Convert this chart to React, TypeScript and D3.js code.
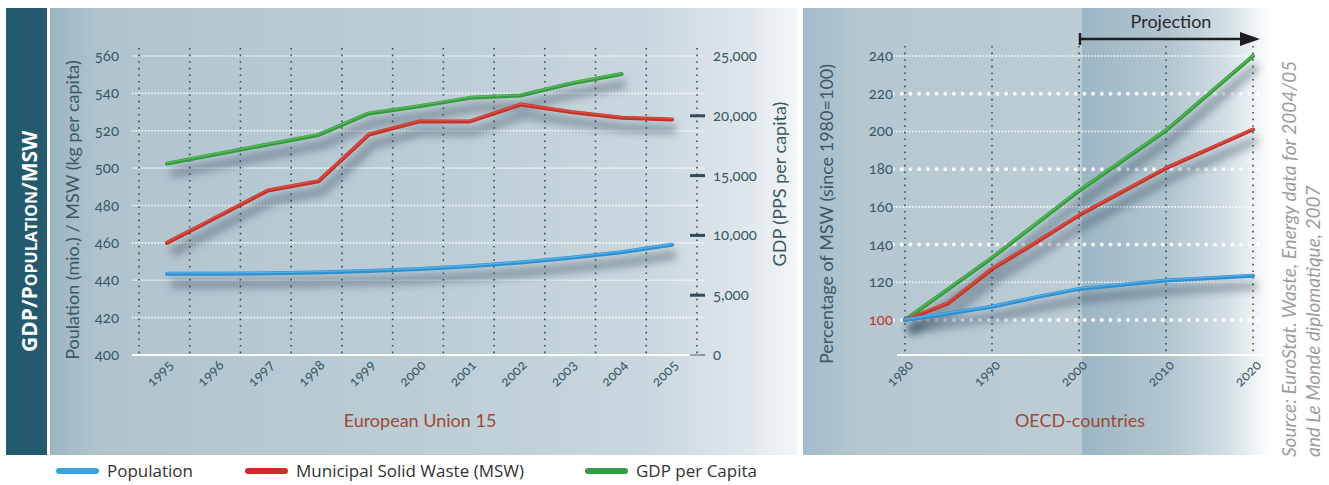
import React from 'react';
import * as d3 from 'd3';

// ---- EU-15 panel data (1995–2005)
const euYears = [1995, 1996, 1997, 1998, 1999, 2000, 2001, 2002, 2003, 2004, 2005];
const euPopulation = [443.5, 443.5, 443.7, 444.2, 445, 446, 447.5, 449.5, 452, 455, 459];
const euMsw = [460, 474, 488, 493, 518, 525, 525, 534, 530, 527, 526];
const gdpYears = [1995, 1996, 1997, 1998, 1999, 2000, 2001, 2002, 2003, 2004];
const euGdp = [16000, 16800, 17600, 18400, 20200, 20800, 21500, 21700, 22700, 23500];
const leftTicks = [400, 420, 440, 460, 480, 500, 520, 540, 560];
const gdpTicks = [0, 5000, 10000, 15000, 20000, 25000];

// ---- OECD panel data (index 1980 = 100)
const oecdTicks = [100, 120, 140, 160, 180, 200, 220, 240];
const oecdDecades = [1980, 1990, 2000, 2010, 2020];
const oecdPopYears = [1980, 1985, 1990, 1995, 2000, 2010, 2020];
const oecdPop = [100, 103.5, 107, 112, 116.5, 121, 123.5];
const oecdMswYears = [1980, 1985, 1990, 1995, 2000, 2010, 2020];
const oecdMsw = [100, 109, 127, 141, 155.5, 180.5, 201];
const oecdGdpYears = [1980, 1990, 2000, 2010, 2020];
const oecdGdp = [100, 133, 168.5, 200.5, 240];

const legendItems = ['Population', 'Municipal Solid Waste (MSW)', 'GDP per Capita'];

const BLUE = '#2f8fd0';
const RED = '#c3322a';
const GREEN = '#349a3c';
const TXT = '#3b5964';
const FONT = 'Lato, "Open Sans", sans-serif';

type Pt = [number, number];

function Series({ pts, color, hi }: { pts: Pt[]; color: string; hi: string }) {
  const d = d3.line<Pt>().x(p => p[0]).y(p => p[1])(pts) || '';
  return (
    <g>
      <path d={d} fill="none" stroke="#23394a" strokeWidth={8} opacity={0.42}
        transform="translate(4,10)" filter="url(#blur)" strokeLinejoin="round" />
      <path d={d} fill="none" stroke={color} strokeWidth={4} strokeLinecap="round" strokeLinejoin="round" />
      <path d={d} fill="none" stroke={hi} strokeWidth={1.4} strokeLinecap="round" strokeLinejoin="round"
        transform="translate(0,-0.8)" opacity={0.8} />
    </g>
  );
}

export default function App() {
  // left panel scales
  const x = d3.scaleLinear().domain([1995, 2005]).range([167, 672]);
  const yL = d3.scaleLinear().domain([400, 560]).range([355, 56]);
  const yG = d3.scaleLinear().domain([0, 25000]).range([355, 56]);
  const gridX = d3.scaleLinear().domain([0, 11]).range([139, 697]);

  // right panel scales
  const xo = d3.scaleLinear().domain([1980, 2020]).range([905, 1253]);
  const yo = d3.scaleLinear().domain([100, 240]).range([320, 56]);

  const popPts: Pt[] = euYears.map((yr, i) => [x(yr), yL(euPopulation[i])]);
  const mswPts: Pt[] = euYears.map((yr, i) => [x(yr), yL(euMsw[i])]);
  const gdpPts: Pt[] = gdpYears.map((yr, i) => [x(yr), yG(euGdp[i])]);

  const oPop: Pt[] = oecdPopYears.map((yr, i) => [xo(yr), yo(oecdPop[i])]);
  const oMsw: Pt[] = oecdMswYears.map((yr, i) => [xo(yr), yo(oecdMsw[i])]);
  const oGdp: Pt[] = oecdGdpYears.map((yr, i) => [xo(yr), yo(oecdGdp[i])]);

  const legendX = [56, 245, 585];
  const legendColors = ['#3aa3dd', '#d42a2a', '#2e9e48'];

  return (
    <svg width={1329} height={485} style={{ position: 'absolute', left: 0, top: 0, fontFamily: FONT }}>
      <defs>
        <filter id="blur" x="-20%" y="-50%" width="140%" height="200%">
          <feGaussianBlur stdDeviation="4.5" />
        </filter>
        <linearGradient id="bgL" x1="0" x2="1" y1="0" y2="0">
          <stop offset="0" stopColor="#9db5c2" />
          <stop offset="0.07" stopColor="#b1c4ce" />
          <stop offset="0.5" stopColor="#bccdd6" />
          <stop offset="0.8" stopColor="#cad7de" />
          <stop offset="0.93" stopColor="#dfe7ec" />
          <stop offset="1" stopColor="#f3f6f8" />
        </linearGradient>
        <linearGradient id="bgR" x1="0" x2="1" y1="0" y2="0">
          <stop offset="0" stopColor="#a3bbc8" />
          <stop offset="0.2" stopColor="#b5c7d1" />
          <stop offset="1" stopColor="#bdcdd6" />
        </linearGradient>
        <linearGradient id="bgP" x1="0" x2="1" y1="0" y2="0">
          <stop offset="0" stopColor="#9db6c4" />
          <stop offset="0.45" stopColor="#b3c6d0" />
          <stop offset="0.75" stopColor="#d4dfe5" />
          <stop offset="0.97" stopColor="#ffffff" />
        </linearGradient>
      </defs>

      {/* title band */}
      <rect x={6} y={8} width={41} height={447} fill="#235a6e" />
      <text transform="translate(37,352) rotate(-90)" fill="#fff" fontWeight={700}
        style={{ fontFamily: '"Open Sans", sans-serif' }}>
        <tspan fontSize={21}>GDP/P</tspan>
        <tspan fontSize={16}>OPULATION</tspan>
        <tspan fontSize={21}>/MSW</tspan>
      </text>

      {/* backgrounds */}
      <rect x={50} y={8} width={747} height={447} fill="url(#bgL)" />
      <rect x={803} y={8} width={279} height={447} fill="url(#bgR)" />
      <rect x={1082} y={8} width={195} height={447} fill="url(#bgP)" />

      {/* ===== left panel ===== */}
      {leftTicks.filter(t => t > 400).map(t => (
        <line key={t} x1={132} x2={705} y1={yL(t)} y2={yL(t)} stroke="#fff" strokeWidth={1.6}
          strokeDasharray="1.6 1.6" opacity={0.9} />
      ))}
      {d3.range(12).map(i => (
        <line key={i} x1={gridX(i)} x2={gridX(i)} y1={48} y2={355} stroke="#2c5656"
          strokeWidth={1.6} strokeDasharray="1.6 5" />
      ))}
      <line x1={132} x2={700} y1={355} y2={355} stroke="#fff" strokeWidth={2} />
      {leftTicks.map(t => (
        <text key={t} x={119} y={yL(t) + 5} textAnchor="end" fontSize={15} fill={TXT}
          style={{ fontVariantNumeric: 'oldstyle-nums' }}>{t}</text>
      ))}
      {gdpTicks.map(t => (
        <g key={t}>
          {t > 0 && t < 25000 && <rect x={690} y={yG(t) - 1.5} width={15} height={3} fill="#334b55" />}
          {t === 0 && <line x1={690} x2={705} y1={yG(t)} y2={yG(t)} stroke="#334b55" strokeWidth={1} />}
          <text x={713} y={yG(t) + 5} fontSize={15} fill={TXT}
            style={{ fontVariantNumeric: 'oldstyle-nums' }}>{d3.format(',')(t)}</text>
        </g>
      ))}
      {euYears.map(yr => (
        <text key={yr} transform={`translate(${x(yr) + 7},366) rotate(-45)`} textAnchor="end"
          fontSize={14} fill={TXT} style={{ fontVariantNumeric: 'oldstyle-nums' }}>{yr}</text>
      ))}
      <text transform="translate(79,210) rotate(-90)" textAnchor="middle" fontSize={18} fill={TXT}>
        Poulation (mio.) / MSW (kg per capita)
      </text>
      <text transform="translate(786,184) rotate(-90)" textAnchor="middle" fontSize={18} fill={TXT}>
        GDP (PPS per capita)
      </text>
      <text x={420} y={427} textAnchor="middle" fontSize={18} fill="#9c4a36">European Union 15</text>

      <Series pts={gdpPts} color={GREEN} hi="#5cc060" />
      <Series pts={mswPts} color={RED} hi="#e0584a" />
      <Series pts={popPts} color={BLUE} hi="#5fb8ee" />

      {/* ===== right panel ===== */}
      {oecdTicks.map((t, i) => (
        i % 2 === 0
          ? <line key={t} x1={893} x2={1262} y1={yo(t)} y2={yo(t)} stroke="#fff" strokeWidth={4}
            strokeLinecap="round" strokeDasharray="0 8.7" opacity={0.9} />
          : <line key={t} x1={893} x2={1262} y1={yo(t)} y2={yo(t)} stroke="#fff" strokeWidth={1.6}
            strokeDasharray="1.6 1.6" opacity={0.9} />
      ))}
      {oecdDecades.map(yr => (
        <line key={yr} x1={xo(yr)} x2={xo(yr)} y1={46} y2={355} stroke="#2c5656"
          strokeWidth={1.6} strokeDasharray="1.6 5" />
      ))}
      <line x1={897} x2={1262} y1={355} y2={355} stroke="#fff" strokeWidth={2} />
      {oecdTicks.map(t => (
        <text key={t} x={893} y={yo(t) + 5} textAnchor="end" fontSize={15}
          fill={t === 100 ? '#c0392b' : TXT} style={{ fontVariantNumeric: 'oldstyle-nums' }}>{t}</text>
      ))}
      {oecdDecades.map(yr => (
        <text key={yr} transform={`translate(${xo(yr) + 9},366) rotate(-45)`} textAnchor="end"
          fontSize={14} fill={TXT} style={{ fontVariantNumeric: 'oldstyle-nums' }}>{yr}</text>
      ))}
      <text transform="translate(833,214) rotate(-90)" textAnchor="middle" fontSize={18} fill={TXT}>
        Percentage of MSW (since 1980=100)
      </text>
      <text x={1080} y={427} textAnchor="middle" fontSize={18} fill="#9c4a36">OECD-countries</text>

      {/* projection marker */}
      <text x={1171} y={28} textAnchor="middle" fontSize={18} fill="#2a2a2a">Projection</text>
      <line x1={xo(2000) + 1} x2={1248} y1={39} y2={39} stroke="#1e1e1e" strokeWidth={2.5} />
      <line x1={xo(2000) + 1} x2={xo(2000) + 1} y1={33} y2={45} stroke="#1e1e1e" strokeWidth={2.5} />
      <path d="M1240,32 L1260,39 L1240,46 Z" fill="#1e1e1e" />

      <Series pts={oGdp} color={GREEN} hi="#5cc060" />
      <Series pts={oMsw} color={RED} hi="#e0584a" />
      <Series pts={oPop} color={BLUE} hi="#5fb8ee" />

      {/* source */}
      <text transform="translate(1296,457) rotate(-90)" fontSize={19} fontStyle="italic" fill="#9d9d9d">
        Source: EuroStat. Waste, Energy data for 2004/05
      </text>
      <text transform="translate(1320,457) rotate(-90)" fontSize={19} fontStyle="italic" fill="#9d9d9d">
        and Le Monde diplomatique, 2007
      </text>

      {/* legend */}
      {legendItems.map((name, i) => (
        <g key={name}>
          <line x1={legendX[i] + 3} x2={legendX[i] + 40} y1={471} y2={471} stroke={legendColors[i]}
            strokeWidth={6} strokeLinecap="round" />
          <text x={legendX[i] + 51} y={477} fontSize={17} fill="#333"
            style={{ fontFamily: '"Open Sans", sans-serif' }}>{name}</text>
        </g>
      ))}
    </svg>
  );
}
